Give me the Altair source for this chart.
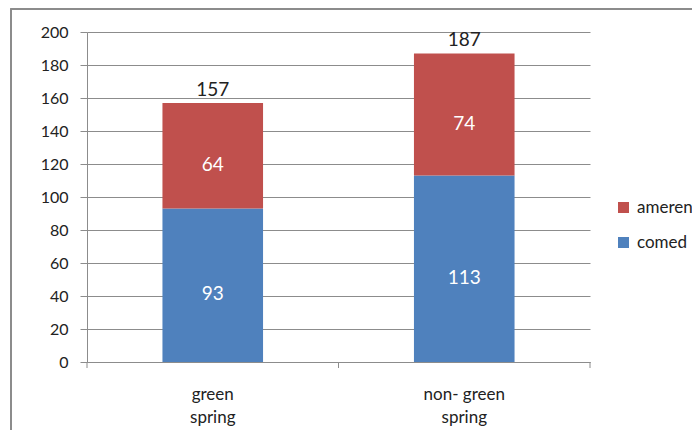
import altair as alt
import pandas as pd

categories = ["green spring", "non- green spring"]
series = ["comed", "ameren"]
comed_values = [93, 113]
ameren_values = [64, 74]
y_ticks = [0, 20, 40, 60, 80, 100, 120, 140, 160, 180, 200]
colors = ["#C0504D", "#4F81BD"]  # ameren, comed
boundaries = [0, 1, 2]

rows = []
for i, c in enumerate(categories):
    rows.append({"cat": c, "series": "comed", "value": comed_values[i], "rank": 0})
    rows.append({"cat": c, "series": "ameren", "value": ameren_values[i], "rank": 1})
df = pd.DataFrame(rows)

FONT = "Lato"
GRAY = "#8c8c8c"
W, H = 503, 330

xaxis = alt.Axis(
    title=None, labelAngle=0, ticks=False, domainColor=GRAY,
    labelFontSize=17, labelFont=FONT, labelColor="#222",
    labelPadding=24, labelLineHeight=23,
    labelExpr="[slice(datum.label, 0, lastindexof(datum.label, ' ')), slice(datum.label, lastindexof(datum.label, ' ') + 1)]",
)
xscale = alt.Scale(paddingInner=0.6, paddingOuter=0.3)
yaxis = alt.Axis(
    title=None, values=y_ticks, grid=True, gridColor=GRAY,
    domainColor=GRAY, tickColor=GRAY, tickSize=7, labelOverlap=False,
    labelFontSize=16, labelFont=FONT, labelColor="#222", labelPadding=12,
)
yscale = alt.Scale(domain=[0, 200], nice=False)

base = alt.Chart(df)

bars = base.mark_bar().encode(
    x=alt.X("cat:N", sort=categories, scale=xscale, axis=xaxis),
    y=alt.Y("value:Q", stack="zero", scale=yscale, axis=yaxis),
    color=alt.Color(
        "series:N",
        scale=alt.Scale(domain=["ameren", "comed"], range=colors),
        legend=alt.Legend(
            title=None, orient="none", legendX=528, legendY=167,
            symbolType="square", symbolSize=121, symbolStrokeWidth=0,
            labelFontSize=17, labelFont=FONT, labelColor="#222",
            rowPadding=17, labelOffset=5,
        ),
    ),
    order=alt.Order("rank:Q", sort="ascending"),
)

inner = base.transform_stack(
    stack="value", groupby=["cat"], sort=[alt.SortField("rank", order="ascending")], as_=["y0", "y1"]
).transform_calculate(mid="(datum.y0 + datum.y1) / 2").mark_text(
    color="white", fontSize=19, font=FONT, baseline="middle", dy=9
).encode(
    x=alt.X("cat:N", sort=categories, scale=xscale, axis=xaxis),
    y=alt.Y("mid:Q", scale=yscale, axis=yaxis),
    text="value:Q",
)

totals = base.transform_aggregate(total="sum(value)", groupby=["cat"]).mark_text(
    color="#222", fontSize=19, font=FONT, baseline="bottom", dy=-3
).encode(
    x=alt.X("cat:N", sort=categories, scale=xscale, axis=xaxis),
    y=alt.Y("total:Q", scale=yscale, axis=yaxis),
    text="total:Q",
)

ticks_df = pd.DataFrame({"b": boundaries})
xticks = alt.Chart(ticks_df).mark_rule(color=GRAY, strokeWidth=1).encode(
    x=alt.X("b:Q", scale=alt.Scale(domain=[0, 2], nice=False), axis=None),
    y=alt.value(H),
    y2=alt.value(H + 6),
)

border = alt.Chart(ticks_df).mark_rect(
    fill=None, stroke="#8a8a8a", strokeWidth=1.5
).encode(
    x=alt.value(-76), x2=alt.value(W + 200), y=alt.value(-23), y2=alt.value(H + 200)
)

main = alt.layer(bars, inner, totals)

chart = alt.layer(border, main, xticks).resolve_scale(x="independent").properties(
    width=W, height=H,
    autosize=alt.AutoSizeParams(type="none"),
    padding={"left": 79, "top": 24, "right": 102, "bottom": 80},
).configure_view(stroke=None)

chart.save("out.html", embed_options={"renderer": "svg", "actions": False})
